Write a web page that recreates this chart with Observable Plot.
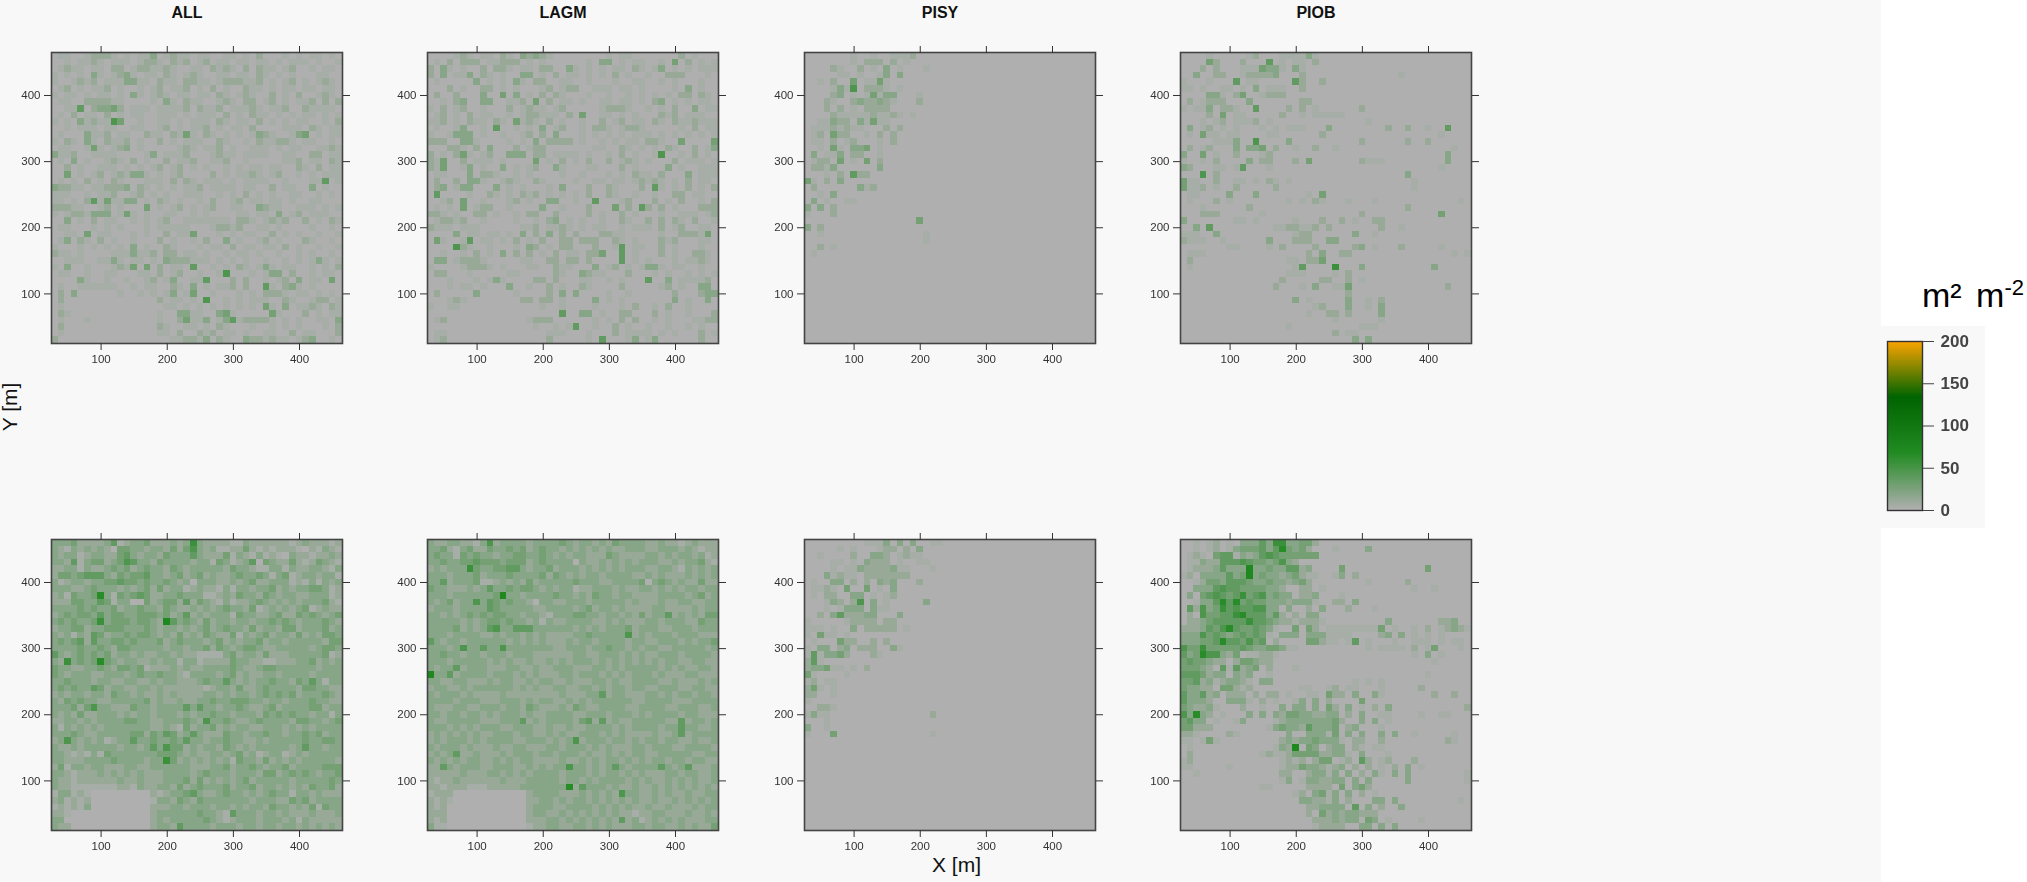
<!DOCTYPE html>
<html><head><meta charset="utf-8">
<script src="https://cdn.jsdelivr.net/npm/d3@7"></script>
<script src="https://cdn.jsdelivr.net/npm/@observablehq/plot@0.6"></script>
<style>
html,body{margin:0;padding:0;background:#f8f8f8;overflow:hidden}
#page{position:relative;width:2027px;height:882px;overflow:hidden;font-family:"Liberation Sans",Arial,sans-serif;background:#f8f8f8}
.abs{position:absolute}
.panel svg{display:block;background:transparent;filter:blur(.5px)}
.title{font-weight:bold;font-size:16px;color:#111;text-align:center;width:200px}
.axl{font-size:21px;color:#111;white-space:nowrap}
</style></head><body><div id="page"></div>
<script>
const panelNames=["ALL","LAGM","PISY","PIOB"];
const tickValues=[100,200,300,400];
const legendTicks=[0,50,100,150,200];
const colorStops=[0,66.67,133.33,200];
const colorRange=["#afafaf","#228b22","#006400","#ffa500"];
// shade digit to m2 m-2, read against the colour bar
const levelValues=[0,4,11,19,28,37,46,55,64,72];
// each row runs north to south; each digit is one 10 m cell
const allTop=[
"01100122210 10113012110 11001101020 00101011010",
"00101121011 10122102120 12011011011 01011101001",
"01211011022 01221121001 10212102021 10120010110",
"10101031012 31011021012 10011011021 01010001100",
"10012120111 33110211022 11012221120 10120101210",
"01201011201 00101201120 10201002110 10110110110",
"10110101101 03101210110 11021012100 20102001210",
"01100222211 00001031021 10012102201 20101120202",
"00115023342 01110111120 21120111210 11200211110",
"01020110201 01100111010 11102010211 01010110101",
"10103121164 00100110101 11021011020 10101100102",
"00101110110 01100120101 12010110200 00111021011",
"01000311201 10021102141 02101010132 10013401011",
"10210310211 20100201011 10021001021 12210110010",
"01100141012 30100000121 01120100111 01011001121",
"31120011110 00013011120 00121101111 00110022011",
"01030100121 02010020112 00112001000 00112011021",
"00201001110 10101201201 01001010110 11002102011",
"00401012012 13310101200 00201011210 12001010111",
"01010201021 00011102021 01110101111 00100011501",
"32211011222 30210101011 20111101100 20110030100",
"11100101120 01201010011 10010102010 10011001010",
"11010251411 33010210100 10200120110 11010011000",
"22211001201 00040101201 01200110032 11001110101",
"10122133301 41010011001 01000011011 03012011100",
"00301020110 01010120011 11111022101 21200201021",
"01100010101 00010111110 00122120011 01000010010",
"00110401100 01010020114 00010101100 20101001001",
"01302102010 01000201001 02003010012 01000210010",
"10001010101 03010021000 10110201101 10201001001",
"21101000011 13112022011 01001011010 01001010010",
"00111001131 01101032221 11010101001 00101013101",
"10300100012 14040201105 00101021013 10110010102",
"01100100110 00110201200 10016000101 33020010110",
"00003100100 10012013001 15000202001 01203011040",
"01001111110 01011002103 01011202005 10231010000",
"02030000001 00101013014 00100010102 22101101010",
"02000000000 00000201101 06001010111 00210012201",
"01000000000 00000011010 10101010104 10301121021",
"02100000000 00000100331 10034100000 41000201011",
"01000100000 00000100241 13013512222 10101001103",
"02000000000 00000210011 01021000100 10101000102",
"01000000000 00000110200 21201101001 10020110002",
"20000000000 00000001122 13021003221 21101230010"];
const lagmTop=[
"00001210110 21032321000 00000101100 00000201000",
"01020222011 22201010000 00103301011 00104020101",
"20310100202 21011022003 10101011021 01301010111",
"20301130210 10033010201 10101020100 10022200010",
"01000003010 10310220011 00100010011 00101000100",
"00020100220 10100012012 20011101101 00001030100",
"02002000300 40301020210 00100100101 01010220210",
"00102300330 01120402011 01001101101 02301010110",
"10201200100 02012110120 00001222100 10102003011",
"01201020110 01012211102 04001101010 00212011100",
"11201021102 10412102010 01002012011 02102112111",
"01001300105 00101030120 01022101221 00000102011",
"10013330100 10012020300 01010101011 10101010101",
"22200331000 01010302222 01001010110 22100400004",
"00022102030 00201220000 00011002101 01021002013",
"20102410120 03330220111 10100102010 01600102010",
"21400201110 10000401020 10200201210 10002011101",
"21400130100 30101200310 00110002010 00030100111",
"01100030221 00101000010 01000101021 10200030111",
"02002033100 12100210000 10011011012 12101020110",
"02301330003 01010001030 00200210002 05101020102",
"05000010021 01021201010 10200210010 01002201100",
"00120400100 01201003300 10050001200 02010200102",
"01010401220 01000030010 00200040205 20201000222",
"22101002201 00102200200 00201002010 00100111012",
"01221200100 00100102301 01001002100 20202102001",
"21110111000 00011201121 01011001011 10201200110",
"00003011011 01030203020 20002211000 00100222140",
"04100150110 10201020022 02220021010 00212000110",
"00006210010 00103201022 00020015011 00201000100",
"00100102010 30202010201 10224005010 00201002210",
"03301222100 00011002202 20200005010 10001011210",
"10000122210 10001100211 00030120101 33101100100",
"02200010000 01100000210 03211000200 01010010101",
"00010001013 10000220200 01100101000 50030111120",
"00010110100 03001002010 02100002000 00120100330",
"02000003000 00100002030 30000100100 00002000233",
"00012100000 00022022010 00030101000 00003010030",
"10011000000 00000010010 00010001020 01020010000",
"00000000000 00000000050 03301002200 02010010002",
"01200000000 00001222000 00010102020 01010001122",
"00000000000 00000100101 50010020100 10010010100",
"01100000000 00000001110 00100020111 10101000201",
"01200000000 00000002000 00105000130 13000000200"];
const pisyTop=[
"00000001001 00111200000 00000000000 00000000000",
"00000001022 20201000000 00000000000 00000000000",
"00002100201 03010001000 00000000000 00000000000",
"00000110100 13030000000 00000000000 00000000000",
"00102004011 41000000000 00000000000 00000000000",
"00001316022 21010000000 00000000000 00000000000",
"00002301014 13300010000 00000000000 00000000000",
"00021002322 32100020000 00000000000 00000000000",
"00020201022 22000000000 00000000000 00000000000",
"00002111112 11210100000 00000000000 00000000000",
"00113220314 11000000000 00000000000 00000000000",
"01112121100 02020000000 00000000000 00000000000",
"01204220010 20200000000 00000000000 00000000000",
"01102012000 10200000000 00000000000 00000000000",
"00104103340 10000000000 00000000000 00000000000",
"03011302200 10000000000 00000000000 00000000000",
"01220401040 20000000000 00000000000 00000000000",
"02213000000 30000000000 00000000000 00000000000",
"00010205220 00000000000 00000000000 00000000000",
"41020300000 00000000000 00000000000 00000000000",
"02000000312 00000000000 00000000000 00000000000",
"00103000000 00000000000 00000000000 00000000000",
"03010011000 00000000000 00000000000 00000000000",
"30302000000 00000000000 00000000000 00000000000",
"10002000000 00000000000 00000000000 00000000000",
"00000000000 00000040000 00000000000 00000000000",
"30200000000 00000000000 00000000000 00000000000",
"00100000000 00000001000 00000000000 00000000000",
"00000000000 00000001000 00000000000 00000000000",
"00201000000 00000000000 00000000000 00000000000",
"01000000000 00000000000 00000000000 00000000000",
"00000000000 00000000000 00000000000 00000000000",
"00000000000 00000000000 00000000000 00000000000",
"00000000000 00000000000 00000000000 00000000000",
"00000000000 00000000000 00000000000 00000000000",
"00000000000 00000000000 00000000000 00000000000",
"00000000000 00000000000 00000000000 00000000000",
"00000000000 00000000000 00000000000 00000000000",
"00000000000 00000000000 00000000000 00000000000",
"00000000000 00000000000 00000000000 00000000000",
"00000000000 00000000000 00000000000 00000000000",
"00000000000 00000000000 00000000000 00000000000",
"00000000000 00000000000 00000000000 00000000000",
"00000000000 00000000000 00000000000 00000000000"];
const piobTop=[
"00001000001 20001111310 00000000000 00000000000",
"00004200020 00501011020 00000000000 00000000000",
"00020200011 14331031000 00000000000 00000000000",
"00300220012 22230002000 00000000000 10000000000",
"10001000501 10000052002 00000000000 00000000000",
"11010011010 30111002000 00000000000 00000000000",
"00003310240 01222000000 00000000000 00000000000",
"02012220003 00000002200 00000000000 00000000000",
"10113022100 50000202010 00000200000 00000000000",
"00002040110 00002001011 11100000000 00000000000",
"00010120111 20100000000 00000010000 00000000000",
"03012010100 01010111000 30000000020 02001005000",
"01041101100 00110000002 00000000000 00000010000",
"00000111300 60000300000 00000200000 02002000000",
"02012000303 34020010020 01000000000 00000000100",
"30040100200 01200000000 00000000000 00000003000",
"10010200003 02200020400 00000211100 00000003000",
"32000110150 00100000000 00000000000 00000010000",
"00060200000 00000000000 00000000000 03000000000",
"41100200110 10210100000 00000000000 00100000000",
"41120100200 00020000000 00000000000 00100000000",
"01100003000 30000000104 00000000000 00000000000",
"01000201000 00000101021 00010001000 00000000010",
"00010000002 00000000000 00000000000 02000000000",
"00022200000 01000000000 00000200000 00000040000",
"30000000110 10000010002 00201002200 00000000000",
"00305000000 00011221120 20000000200 10000000000",
"11100300000 00000012200 00003001000 00000000000",
"21110010000 00300022200 33000000000 00000000000",
"00000001100 00102000020 00002301000 20000010000",
"01110000000 00000000203 00220000000 00000000101",
"02000000000 00000110224 00000000000 00000000000",
"01000000000 00000015000 07000300000 00000300000",
"00000000000 00000111000 01020000000 00000000000",
"00000000000 00002000002 20020100000 00000000000",
"00000000000 00020001030 01140000000 00000002000",
"00000000000 00000000000 00020000000 00000000000",
"00000000000 00000030100 00030010200 00000000000",
"00000000000 00000000012 00030010300 00000000000",
"00000000000 00000000100 22020000300 00000000000",
"00000000000 00000000000 01000000100 00000000000",
"00000000000 00000100000 00000111000 00000000000",
"00000000000 00000000000 02011000000 00000000000",
"00000000000 00000000000 00003030000 00000000000"];
const allBottom=[
"33342222351 23342223237 32222113222 22212322212",
"32132323204 43323324246 32311224212 12221021321",
"32331233224 53233243335 32224132131 21032212232",
"33251344234 65332433332 33143123504 32242124321",
"22331322343 42343324323 33332433211 33132233213",
"24434555324 34453323423 42322343343 13412332331",
"31233233445 44343343230 33322323422 33312131323",
"33322343332 32342423312 32213133233 42323344312",
"23143348314 34542233433 31123243324 32332233312",
"22244335413 30042344252 43213122343 23232333421",
"33334343342 33433243223 23234332412 32323412322",
"23434435344 33444342352 32333143322 34224343234",
"34343347344 43443295343 24233233233 43432333432",
"23344233444 33343233232 34234332423 32442333423",
"32313254233 43443232423 24322413234 23324232443",
"34345253344 34333423433 32342323342 33233333244",
"33334334324 43333323323 34243234432 23333323443",
"53234343423 32322332322 11113423324 22233333412",
"32734348432 33223233133 12222433221 12223342323",
"43322334324 43412223232 23333432234 43333332333",
"43233322333 23433433213 33323423223 32333323333",
"33433323322 33223233222 34335323233 43324353133",
"34343354233 22332322222 21233242234 33332443322",
"23233233243 32322323222 23323233234 34342333432",
"32434332233 33342322322 33433444332 33233343322",
"33342463322 24332333353 53323343223 42333344233",
"32324223332 32332333232 33433233324 34343323313",
"22332323333 44332233343 26334322343 33324433234",
"31323232333 33332232142 33423233223 33232323333",
"33343223333 34424354235 32224332334 33233434233",
"23632323123 35334334353 32334332232 33333433443",
"32232333332 33235364423 23324323233 33323533233",
"33212131433 33333444323 22332342312 33123233333",
"33222333343 33323374232 32323143324 23232333332",
"24133233222 33223333332 22334233432 33423333444",
"33212223232 32322233332 34333233324 42343432334",
"32212222223 22322233342 42323234233 33323333343",
"32211111112 21322332423 43334233423 32323243342",
"13312100000 00002123345 32234332323 43313323222",
"23121200000 00001332432 43333333233 32243423333",
"12121300000 00002223323 33233232332 43323241433",
"22100000000 00002333333 43321533323 32322232223",
"33000000000 00002323333 34321233323 33231322222",
"32200000000 00002332533 33233323323 32332323232"];
const lagmBottom=[
"32233221362 33332333343 23323243333 22322123222",
"33421342243 34342343323 23232322333 22333232122",
"34331434332 33443343232 33222432222 33232332312",
"33433445444 34442343333 03223232323 33223233421",
"23233374334 45532334233 32323232333 22332132323",
"33323334233 34333342432 32332333322 32322232323",
"33523334112 32324233333 43332233334 03432322422",
"43322232353 34344323233 12233323223 32323233233",
"33323333334 93323333433 23243323322 22333323423",
"32342336354 34332033223 33233333232 22322332233",
"23332333354 33333223333 23423323222 23322223233",
"33232343434 43323321333 44332332324 23352323244",
"33333232344 34332313223 33322323222 33233322433",
"33334232356 33555333333 23232333423 33223332333",
"33323333223 23323232222 33433333623 23332333222",
"53233233333 32323232223 23323333233 22333232334",
"33323633533 63333333223 33233433232 33223333323",
"33433233233 32333222222 33223332323 22333233332",
"33323333323 23223223232 33323232323 23233223322",
"32335233322 23322322333 22233232333 33232322332",
"93352333323 33232322233 23332323233 32322233222",
"33223322232 33223233223 22233232233 33223222323",
"23322323333 33232322332 23323233233 22333223322",
"32333232222 32222222232 22335233222 33232332332",
"33332333222 33323233223 23233333322 33332223333",
"32223322333 23324322232 43223333223 33322333223",
"33233233232 33323223333 22333233323 23333233222",
"32233333222 33352323333 24525232233 33322523323",
"33323232333 22333223223 22333323233 33233533223",
"23232323223 33233223232 23332323222 23223523333",
"23233323233 33223332323 62333233232 33233223223",
"32333232223 22332223323 33232322233 23332233332",
"23235223222 32333233233 32322323233 22333332233",
"32323233223 23233222232 23232332323 23323323322",
"22532333223 33223232336 33232353233 33532352223",
"22222322233 23232333323 33232332323 22233233223",
"21223222222 32223333323 32323333232 32232323223",
"22122211122 22233333338 25333232232 23232323232",
"12220000000 00002333322 23232326332 23232232233",
"21210000000 00002233232 33232323232 23223232323",
"21200000000 00002333223 33323232322 32232223233",
"22200000000 00002332232 32323232212 23322232232",
"21200000000 00002223323 23232325231 23232322233",
"31100000000 00001223322 33232322233 23322323224"];
const pisyBottom=[
"00000000011 13030300110 00000000000 00000000000",
"00000101000 12202030000 00000000000 00000000000",
"00100002003 32012110000 00000000000 00000000000",
"00001101032 22010011000 00000000000 00000000000",
"00001011322 22311000100 00000000000 00000000000",
"00031211022 22222000000 00000000000 00000000000",
"01003302020 32300020000 00000000000 00000000000",
"01121040040 10300000000 00000000000 00000000000",
"01022003301 01200000000 00000000000 00000000000",
"00013202603 01000003000 00000000000 00000000000",
"00010133303 11000000000 00000000000 00000000000",
"00203522233 00030000000 00000000000 00000000000",
"10000012222 02200000000 00000000000 00000000000",
"11101003022 22201000000 00000000000 00000000000",
"10411010000 00000000000 00000000000 00000000000",
"01000422002 02000000000 00000000000 00000000000",
"10330230222 00310000000 00000000000 00000000000",
"15133420002 10000000000 00000000000 00000000000",
"25100000000 00000000000 00000000000 00000000000",
"23341101020 00000000000 00000000000 00000000000",
"41000010000 00000000000 00000000000 00000000000",
"12011000000 00000000000 00000000000 00000000000",
"24101000000 00000000000 00000000000 00000000000",
"22001000000 00000000000 00000000000 00000000000",
"10000000000 00000000000 00000000000 00000000000",
"00221000000 00000000000 00000000000 00000000000",
"13110000000 00000000200 00000000000 00000000000",
"00010000000 00000000000 00000000000 00000000000",
"30010000000 00000000000 00000000000 00000000000",
"10004000000 00000000100 00000000000 00000000000",
"00000000000 00000000000 00000000000 00000000000",
"00000000000 00000000000 00000000000 00000000000",
"00000000000 00000000000 00000000000 00000000000",
"00000000000 00000000000 00000000000 00000000000",
"00000000000 00000000000 00000000000 00000000000",
"00000000000 00000000000 00000000000 00000000000",
"00000000000 00000000000 00000000000 00000000000",
"00000000000 00000000000 00000000000 00000000000",
"00000000000 00000000000 00000000000 00000000000",
"00000000000 00000000000 00000000000 00000000000",
"00000000000 00000000000 00000000000 00000000000",
"00000000000 00000000000 00000000000 00000000000",
"00000000000 00000000000 00000000000 00000000000",
"00000000000 00000000000 00000000000 00000000000"];
const piobBottom=[
"00101201033 35377334420 00000000000 00000000000",
"00101201344 45358434200 01000030000 00000000000",
"01210455132 35654444440 00000000000 00000000000",
"01132255565 44346320000 00000000000 00000000000",
"01222353339 33433552300 00400000000 00004000000",
"12033335349 34332342110 01302000000 00000000000",
"00124435554 33433234200 00000010000 02000000000",
"00333565544 44332002201 00000000000 00100100000",
"03045654574 56343302230 00100000000 00000000000",
"00133585845 44333233310 02203000000 00000000000",
"05263475655 66330300203 00020001000 00000000000",
"02064455785 55352020330 00000000000 00000000000",
"02234555557 55432212221 00000000030 00000022300",
"22235468544 54310040420 11111111401 00102012321",
"33364543454 54103330333 11110000230 30101010000",
"33344585546 45020000442 11015010001 00111010110",
"64474444454 33443110000 00000010111 10201400010",
"53486632401 12210000000 00000000000 00103010000",
"45443220244 32200000000 00000000000 00000100000",
"44432051523 40200010000 00000000000 00000000000",
"55542330323 00100000000 00000000000 00001000000",
"44523123321 03300000000 00001010100 00000000000",
"43322044212 00000001100 12011000100 00020000000",
"53352302220 20220100110 42203003100 00000200200",
"53332003331 02010013030 20000400000 00000000000",
"43223100020 01003033030 42030102030 00000000002",
"63832010003 03032443322 33020300110 00010011000",
"45330100130 00012333333 34200303010 00000000000",
"44222000000 00134332533 34023000100 00000000000",
"22100002100 00000300333 14030300303 00100000100",
"11014100000 00002323343 33102200200 00000002100",
"01000000000 00013290430 23302101100 00000000000",
"02000000000 01211244442 23310300010 00000000000",
"12000000000 00001212024 40120520120 00200000000",
"11000001000 00001224332 12302020102 03010000000",
"00100000000 00002200233 13030203103 03000000001",
"00000000000 00001301332 23303030000 03000000001",
"00000000000 01100000222 20403420000 00000000000",
"00000000000 00000012034 13030201000 00000000000",
"00000000000 00000003322 13020003303 00000000010",
"00000000000 00000000223 33305030200 30000000000",
"00000000000 00000000204 23233222000 00000000000",
"00000000000 00000000022 23233043010 00010000000",
"00000000000 00000000012 22200330303 00000000000"];

const topRows=[allTop,lagmTop,pisyTop,piobTop];
const bottomRows=[allBottom,lagmBottom,pisyBottom,piobBottom];

function table(rows){
  const out=[];
  rows.forEach((r,i)=>{
    const s=r.replace(/ /g,"");
    for(let j=0;j<44;j++){
      out.push({x:30+10*j,y:460-10*i,v:levelValues[+s[j]||0]});
    }
  });
  return out;
}
const colorScale={type:"linear",domain:colorStops,range:colorRange,interpolate:"rgb",clamp:true};
const page=document.getElementById("page");
function place(node,left,top,cls){
  const d=document.createElement("div");
  d.className="abs "+(cls||"");
  d.style.left=left+"px";d.style.top=top+"px";
  d.append(node);page.append(d);return d;
}
function panel(rows,left,top){
  const ml=45,mr=15,mt=15,mb=30,side=291;
  const chart=Plot.plot({
    width:side+ml+mr,height:side+mt+mb,
    marginLeft:ml,marginRight:mr,marginTop:mt,marginBottom:mb,
    style:{fontFamily:"'Liberation Sans',Arial,sans-serif",background:"transparent",color:"#333"},
    x:{domain:[25,465]},y:{domain:[25,465]},color:colorScale,
    marks:[
      Plot.rect(table(rows),{x1:d=>d.x-5,x2:d=>d.x+5,y1:d=>d.y-5,y2:d=>d.y+5,fill:"v",shapeRendering:"crispEdges"}),
      Plot.frame({stroke:"#444",strokeWidth:1.6}),
      Plot.axisX({anchor:"bottom",ticks:tickValues,tickSize:7,tickPadding:4,fontSize:11.5,label:null,stroke:"#333"}),
      Plot.axisX({anchor:"top",ticks:tickValues,tickSize:7,tickFormat:()=>"",label:null,stroke:"#333"}),
      Plot.axisY({anchor:"left",ticks:tickValues,tickSize:7,tickPadding:4,fontSize:11.5,label:null,stroke:"#333"}),
      Plot.axisY({anchor:"right",ticks:tickValues,tickSize:7,tickFormat:()=>"",label:null,stroke:"#333"})
    ]
  });
  place(chart,left-ml,top-mt,"panel");
}
const lefts=[51,427,804,1180];
topRows.forEach((r,k)=>panel(r,lefts[k],52));
bottomRows.forEach((r,k)=>panel(r,lefts[k],539));

panelNames.forEach((n,k)=>{
  const t=document.createElement("span");t.textContent=n;
  place(t,lefts[k]+136-100,4,"title");
});
const xl=document.createElement("span");xl.textContent="X [m]";
place(xl,932,853,"axl");
const yl=document.createElement("span");yl.textContent="Y [m]";
const yd=place(yl,-14,395,"axl");
yd.style.transform="rotate(-90deg)";yd.style.transformOrigin="center";

// right-hand white strip and legend box
const white=document.createElement("div");
white.className="abs";white.style.cssText="left:1881px;top:0;width:146px;height:882px;background:#fff";
page.append(white);
const box=document.createElement("div");
box.className="abs";box.style.cssText="left:1881px;top:326px;width:104px;height:202px;background:#f8f8f8";
page.append(box);

const barLevels=d3.range(0,200,1);
const legend=Plot.plot({
  width:100,height:189,marginLeft:6,marginRight:59,marginTop:10,marginBottom:10,
  style:{fontFamily:"'Liberation Sans',Arial,sans-serif",background:"transparent",color:"#444"},
  x:{domain:[0,1],axis:null},y:{domain:[0,200]},color:colorScale,
  marks:[
    Plot.rect(barLevels,{x1:0,x2:1,y1:d=>d,y2:d=>d+1,fill:d=>d,shapeRendering:"crispEdges"}),
    Plot.frame({stroke:"#333",strokeWidth:1.4}),
    Plot.axisY({anchor:"right",ticks:legendTicks,tickSize:11,tickPadding:7,fontSize:17,fontWeight:"600",label:null,stroke:"#444"})
  ]
});
place(legend,1881,331,"panel");

const lt=document.createElement("div");
lt.className="abs";
lt.style.cssText="left:1922px;top:278px;font-size:34px;line-height:34px;color:#000;white-space:nowrap;word-spacing:5px";
lt.innerHTML='m\u00b2 m<span style="font-size:22px;position:relative;top:-12px">-2</span>';
page.append(lt);
</script></body></html>
